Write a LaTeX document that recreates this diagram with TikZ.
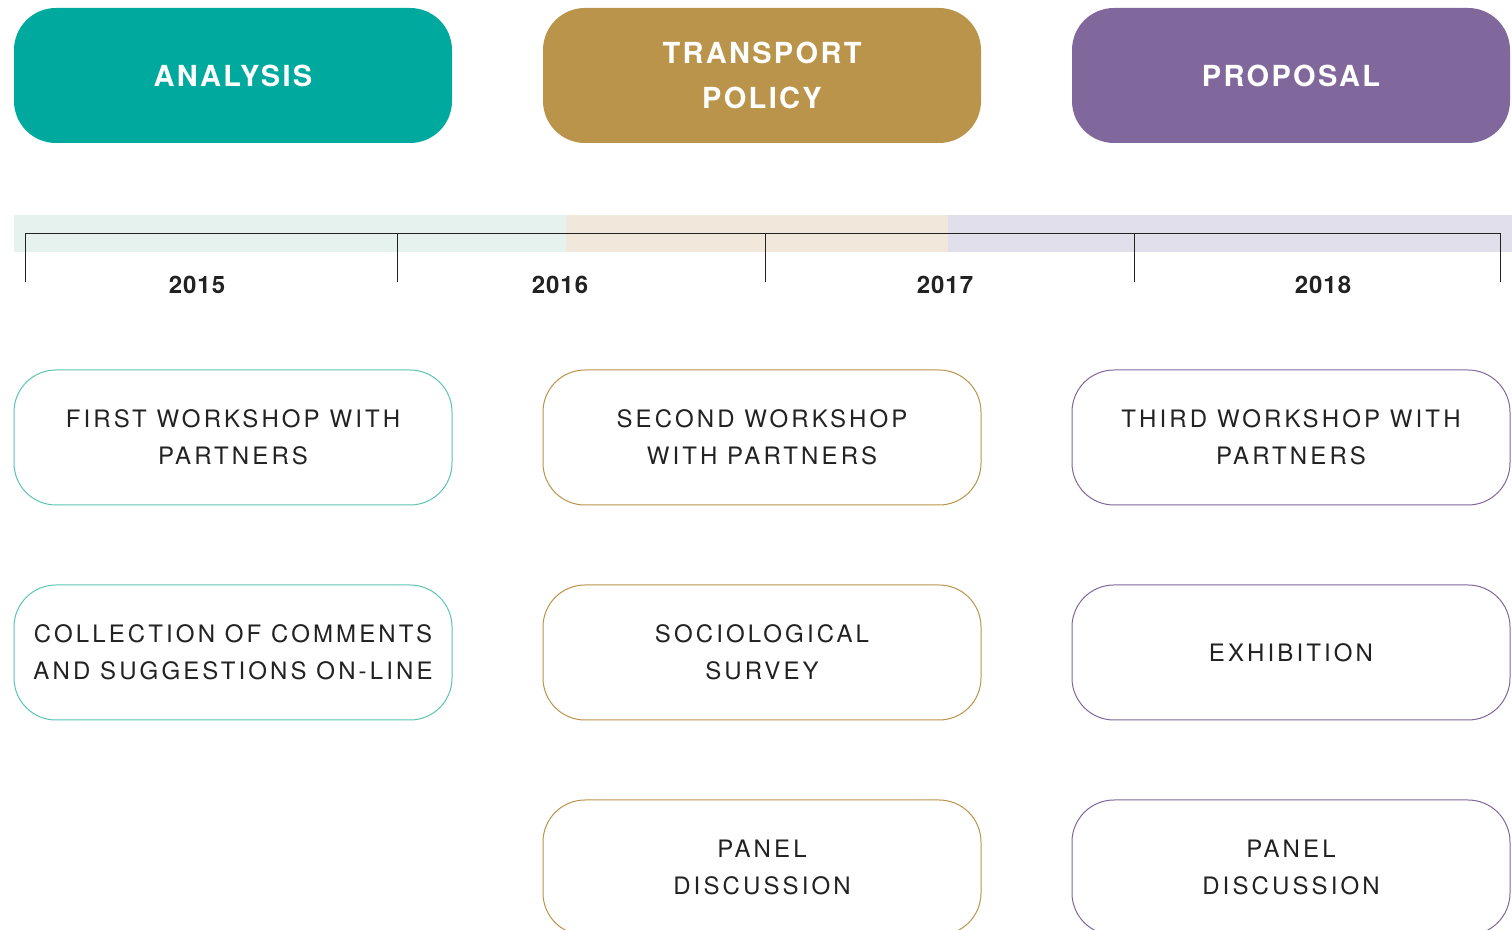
\documentclass[tikz,border=0pt]{standalone}
\usepackage{fontspec}
\setmainfont{TeX Gyre Heros}
\newfontfamily\headfont[LetterSpace=8]{TeX Gyre Heros}
\newfontfamily\bodyfont[LetterSpace=13]{TeX Gyre Heros}
\newfontfamily\yearfont[LetterSpace=4]{TeX Gyre Heros}
\usepackage{tikz}
\usetikzlibrary{backgrounds}

\definecolor{teal}{HTML}{00A99E}
\definecolor{gold}{HTML}{B9944A}
\definecolor{plum}{HTML}{80679C}
\definecolor{tealband}{HTML}{E5F2EE}
\definecolor{goldband}{HTML}{F1E7DB}
\definecolor{plumband}{HTML}{E1DFEC}
\definecolor{tealline}{HTML}{5CC4B4}
\definecolor{ink}{HTML}{222222}

\tikzset{
  phase/.style={rounded corners=21pt, minimum width=219pt, minimum height=67.5pt,
    inner sep=0pt, align=center, text=white, fill=#1,
    font=\headfont\bfseries\fontsize{14.5}{22.5}\selectfont},
  event/.style={rounded corners=21pt, minimum width=219pt, minimum height=67.5pt,
    inner sep=0pt, align=center, text=ink, draw=#1, line width=0.5pt,
    font=\bodyfont\fontsize{12}{18.5}\selectfont},
  year/.style={text=ink, font=\yearfont\bfseries\fontsize{12}{14}\selectfont}
}

\begin{document}
\begin{tikzpicture}[x=0.5pt,y=-0.5pt]
    \useasboundingbox (0,0) rectangle (1512,930);

    % phases %
    \node[phase=teal] (analysis) at (233,75.5) {ANALYSIS};
    \node[phase=gold] (policy) at (762,75.5) {TRANSPORT\\POLICY};
    \node[phase=plum] (proposal) at (1291,75.5) {PROPOSAL};

    % timeline band and bracket %
    \fill[tealband] (14,215) rectangle (566,252);
    \fill[goldband] (566,215) rectangle (948,252);
    \fill[plumband] (948,215) rectangle (1512,252);
    \draw[ink, line width=0.5pt] (25,282) -- (25,234) -- (1500,234) -- (1500,282);
    \foreach \x in {397,765,1134}
      \draw[ink, line width=0.5pt] (\x,234) -- (\x,282);
    \node[year] (y2015) at (197,285) {2015};
    \node[year] (y2016) at (560,285) {2016};
    \node[year] (y2017) at (945,285) {2017};
    \node[year] (y2018) at (1323,285) {2018};

    % events %
    \node[event=tealline] (first) at (233,437.5) {FIRST WORKSHOP WITH\\PARTNERS};
    \node[event=tealline] (comments) at (233,652.5) {COLLECTION OF COMMENTS\\AND SUGGESTIONS ON-LINE};
    \node[event=gold] (second) at (762,437.5) {SECOND WORKSHOP\\WITH PARTNERS};
    \node[event=gold] (survey) at (762,652.5) {SOCIOLOGICAL\\SURVEY};
    \node[event=gold] (panela) at (762,867.5) {PANEL\\DISCUSSION};
    \node[event=plum] (third) at (1291,437.5) {THIRD WORKSHOP WITH\\PARTNERS};
    \node[event=plum] (exhibition) at (1291,652.5) {EXHIBITION};
    \node[event=plum] (panelb) at (1291,867.5) {PANEL\\DISCUSSION};
  \end{tikzpicture}
\end{document}
